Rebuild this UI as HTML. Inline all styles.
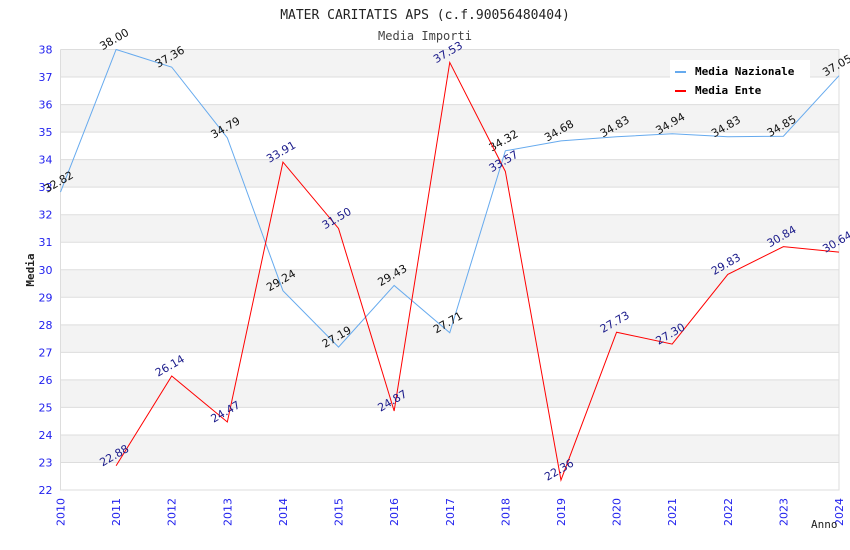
<!DOCTYPE html>
<html><head><meta charset="utf-8"><style>
body{margin:0;background:#fff}
svg{display:block}
</style></head><body>
<svg id="chart" width="850" height="550" xmlns="http://www.w3.org/2000/svg">
<text x="425" y="19" text-anchor="middle" font-family="DejaVu Sans Mono, monospace" font-size="13" fill="#222">MATER CARITATIS APS (c.f.90056480404)</text>
<text x="425" y="40" text-anchor="middle" font-family="DejaVu Sans Mono, monospace" font-size="12" fill="#444">Media Importi</text>
<g id="bands"></g><g id="axes"></g>
<g>
<rect x="670" y="60" width="140" height="41" fill="#fff"/>
<rect x="675" y="71" width="11" height="2" fill="#66aaee"/>
<text x="695" y="75" font-family="DejaVu Sans Mono, monospace" font-size="11" font-weight="bold" fill="#000">Media Nazionale</text>
<rect x="675" y="90" width="11" height="2" fill="#ff0000"/>
<text x="695" y="94" font-family="DejaVu Sans Mono, monospace" font-size="11" font-weight="bold" fill="#000">Media Ente</text>
</g>
<g id="series"></g>
<text x="34" y="270" transform="rotate(-90 34 270)" text-anchor="middle" font-family="DejaVu Sans Mono, monospace" font-size="11" font-weight="bold" fill="#222">Media</text>
<text x="811" y="528" font-family="DejaVu Sans Mono, monospace" font-size="11" fill="#222">Anno</text>
</svg>
<script>
const years=[2010,2011,2012,2013,2014,2015,2016,2017,2018,2019,2020,2021,2022,2023,2024];
const nazionale=[32.82,38.00,37.36,34.79,29.24,27.19,29.43,27.71,34.32,34.68,34.83,34.94,34.83,34.85,37.05];
const ente=[null,22.88,26.14,24.47,33.91,31.50,24.87,37.53,33.57,22.36,27.73,27.30,29.83,30.84,30.64];
const yTicks=[22,23,24,25,26,27,28,29,30,31,32,33,34,35,36,37,38];
const NS='http://www.w3.org/2000/svg';
const L=60.5,R=839,T=49.5,B=490,yMin=22,yMax=38;
const xs=i=>L+(R-L)*i/(years.length-1);
const ys=v=>B-(B-T)*(v-yMin)/(yMax-yMin);
function mk(t,a,p){const e=document.createElementNS(NS,t);for(const k in a)e.setAttribute(k,a[k]);p.appendChild(e);return e;}
const bands=document.getElementById('bands'),axes=document.getElementById('axes'),ser=document.getElementById('series');
for(let k=0;k<yTicks.length-1;k++){
  const v=yTicks[k];
  if(v%2===1){const r=mk('rect',{x:L,y:ys(v+1),width:R-L,height:ys(v)-ys(v+1),fill:'#f3f3f3'},bands);
  
  }
}
yTicks.forEach(v=>{
  const g=mk('line',{x1:L,x2:R,y1:ys(v),y2:ys(v),stroke:'#ddd','stroke-width':1},axes);
  
  
  const t=mk('text',{x:L-8,y:ys(v)+4,'text-anchor':'end','font-family':'DejaVu Sans, sans-serif','font-size':11,fill:'#2222ee'},axes);
  t.textContent=v;
  
  
});
const ax=mk('path',{d:`M${L} ${T}V${B}H${R}V${T}`,stroke:'#ddd',fill:'none'},axes);


years.forEach((y,i)=>{
  const x=xs(i)+4,yy=B+8;
  const t=mk('text',{x:x,y:yy,transform:`rotate(-90 ${x} ${yy})`,'text-anchor':'end','font-family':'DejaVu Sans, sans-serif','font-size':11,fill:'#2222ee'},axes);
  t.textContent=y;
  
  
});
function draw(vals,color,lab,name){
  let d='';vals.forEach((v,i)=>{if(v==null)return;d+=(d?'L':'M')+xs(i)+' '+ys(v);});
  const p=mk('path',{d:d,stroke:color,fill:'none','stroke-width':1},ser);
  
  
  vals.forEach((v,i)=>{if(v==null)return;
    const x=xs(i),y=ys(v)-7;
    const t=mk('text',{x:x,y:y,transform:`rotate(-30 ${x} ${y})`,'text-anchor':'middle','font-family':'DejaVu Sans, sans-serif','font-size':11,fill:lab},ser);
    t.textContent=v.toFixed(2);
    
    
  });
}
draw(nazionale,'#66aaee','#111','nazionale');
draw(ente,'#ff0000','#1a1a8a','ente');
</script>
</body></html>
